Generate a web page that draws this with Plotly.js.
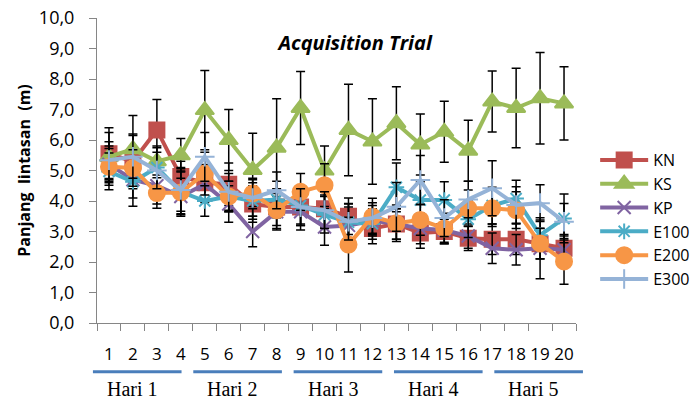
<!DOCTYPE html>
<html>
<head>
<meta charset="utf-8">
<script src="https://cdn.plot.ly/plotly-3.0.1.min.js"></script>
<style>html,body{margin:0;padding:0;background:#fff;}#chart{width:695px;height:401px;}</style>
</head>
<body>
<div id="chart"></div>
<script>
const trials = ['1','2','3','4','5','6','7','8','9','10','11','12','13','14','15','16','17','18','19','20'];
const days = ['Hari 1','Hari 2','Hari 3','Hari 4','Hari 5'];
const seriesNames = ['KN','KS','KP','E100','E200','E300'];

const KN   = [5.55, 5.3, 6.33, 4.8, 4.6, 4.55, 3.9, 3.8, 3.8, 3.75, 3.5, 3.1, 3.25, 2.95, 3.0, 2.78, 2.75, 2.75, 2.6, 2.45];
const KS   = [5.45, 5.7, 5.3, 5.5, 6.98, 6.0, 5.02, 5.75, 7.05, 5.0, 6.33, 5.95, 6.55, 5.85, 6.27, 5.65, 7.26, 7.05, 7.37, 7.2];
const KP   = [5.2, 4.7, 4.5, 4.15, 4.55, 3.9, 3.0, 3.65, 3.65, 3.15, 3.2, 3.35, 3.25, 3.1, 3.05, 2.85, 2.45, 2.4, 2.45, 2.4];
const E100 = [4.97, 4.63, 5.1, 4.3, 4.0, 4.15, 4.0, 4.05, 3.85, 3.55, 3.3, 3.25, 4.45, 4.03, 4.03, 3.4, 3.85, 4.08, 2.88, 3.43];
const E200 = [5.12, 5.08, 4.26, 4.28, 4.9, 4.15, 4.25, 3.7, 4.3, 4.52, 2.57, 3.49, 3.27, 3.38, 3.1, 3.76, 3.76, 3.7, 2.61, 2.02];
const E300 = [5.34, 5.45, 5.0, 4.36, 5.45, 4.3, 4.1, 4.35, 3.8, 3.7, 3.32, 3.44, 3.81, 4.69, 3.44, 4.05, 4.42, 3.87, 3.93, 3.32];

const KN_err   = [0.85, 0.9, 1.0, 0.5, 0.6, 0.7, 0.6, 0.6, 0.6, 0.6, 0.6, 0.5, 0.5, 0.5, 0.4, 0.4, 0.5, 0.5, 0.5, 0.4];
const KS_err   = [0.8, 1.1, 0.45, 0.55, 1.3, 1.0, 1.2, 1.6, 1.2, 0.8, 1.5, 1.4, 1.2, 1.0, 1.0, 1.0, 1.0, 1.3, 1.5, 1.2];
const KP_err   = [0.6, 0.6, 0.6, 0.6, 0.6, 0.6, 0.5, 0.6, 0.6, 0.6, 0.6, 0.5, 0.5, 0.5, 0.4, 0.4, 0.5, 0.5, 1.0, 0.5];
const E100_err = [0.6, 0.8, 0.7, 0.8, 0.5, 0.5, 0.6, 0.6, 0.6, 0.6, 0.6, 0.5, 0.8, 0.6, 0.6, 0.6, 0.6, 0.6, 0.5, 0.8];
const E200_err = [0.6, 0.6, 0.5, 0.7, 0.7, 0.5, 0.5, 0.6, 0.6, 0.7, 0.9, 0.6, 0.6, 0.5, 0.5, 0.6, 0.6, 0.6, 0.5, 0.75];
const E300_err = [0.6, 0.7, 0.6, 0.7, 0.8, 0.6, 0.6, 0.6, 0.6, 0.6, 0.6, 0.5, 0.8, 0.8, 0.6, 0.6, 0.9, 0.6, 0.6, 0.6];

const seriesValues = [KN, KS, KP, E100, E200, E300];
const seriesErrors = [KN_err, KS_err, KP_err, E100_err, E200_err, E300_err];
const colors  = ['#C0504D', '#9BBB59', '#8064A2', '#4BACC6', '#F79646', '#95B3D7'];
const symbols = ['square', 'triangle-up', 'x-thin-open', 'asterisk-open', 'circle', 'cross-thin-open'];
const msizes  = [15, 16, 13, 13, 16, 14];

const traces = seriesNames.map((name, i) => ({
  type: 'scatter',
  mode: 'lines+markers',
  name: name,
  x: trials,
  y: seriesValues[i],
  line: {color: colors[i], width: 4},
  marker: {symbol: symbols[i], size: msizes[i], color: colors[i], line: {color: colors[i], width: 2}},
  error_y: {type: 'data', array: seriesErrors[i], visible: true, color: '#000', thickness: 1.5, width: 4.5}
}));

const shapes = [];
const annotations = [];
days.forEach((d, k) => {
  const s = -0.67 + 4.19 * k;
  const e = s + 3.7;
  const toPaper = idx => (idx + 0.5) / trials.length;
  shapes.push({type: 'line', xref: 'paper', yref: 'paper', x0: toPaper(s), x1: toPaper(e), y0: -0.16, y1: -0.16,
               line: {color: '#4A7EBB', width: 3}});
  annotations.push({xref: 'paper', yref: 'paper', x: toPaper(s + 1.65), y: -0.216, text: d, showarrow: false,
                    xanchor: 'center', yanchor: 'middle',
                    font: {family: 'Liberation Serif', size: 20, color: '#000'}});
});

const layout = {
  width: 695, height: 401,
  margin: {l: 97, r: 119, t: 18, b: 78, autoexpand: false},
  separators: ',.',
  paper_bgcolor: '#fff', plot_bgcolor: '#fff',
  font: {family: 'Open Sans', color: '#000'},
  showlegend: true,
  title: {text: '<b><i>Acquisition Trial</i></b>', font: {size: 20, family: 'Open Sans', color: '#000'},
          xref: 'paper', x: 0.539, xanchor: 'center', yref: 'container', y: 0.893, yanchor: 'middle'},
  xaxis: {type: 'category', range: [-0.5, trials.length - 0.5], tickson: 'boundaries', ticks: 'outside', ticklen: 7, tickcolor: '#868686',
          showline: true, linecolor: '#868686', linewidth: 1, showgrid: false, zeroline: false, automargin: false,
          tickangle: 0, tickfont: {size: 17, family: 'Open Sans'}, ticklabelstandoff: 16, fixedrange: true},
  yaxis: {range: [0, 10], dtick: 1, tickformat: '.1f', ticks: 'outside', ticklen: 7, tickcolor: '#868686',
          showline: true, linecolor: '#868686', linewidth: 1, showgrid: false, zeroline: false, automargin: false,
          tickfont: {size: 18, family: 'Open Sans'}, ticklabelstandoff: 11,
          title: {text: '<b>Panjang\u00a0 lintasan\u00a0 (m)</b>', font: {size: 16, family: 'Open Sans'}, standoff: 4},
          fixedrange: true},
  legend: {x: 1.04, xanchor: 'left', y: 0.59, yanchor: 'top', font: {size: 16, family: 'Open Sans'},
           bgcolor: 'rgba(0,0,0,0)', itemwidth: 48, tracegroupgap: 0},
  shapes: shapes,
  annotations: annotations
};

Plotly.newPlot('chart', traces, layout, {staticPlot: true, displayModeBar: false});
</script>
</body>
</html>
